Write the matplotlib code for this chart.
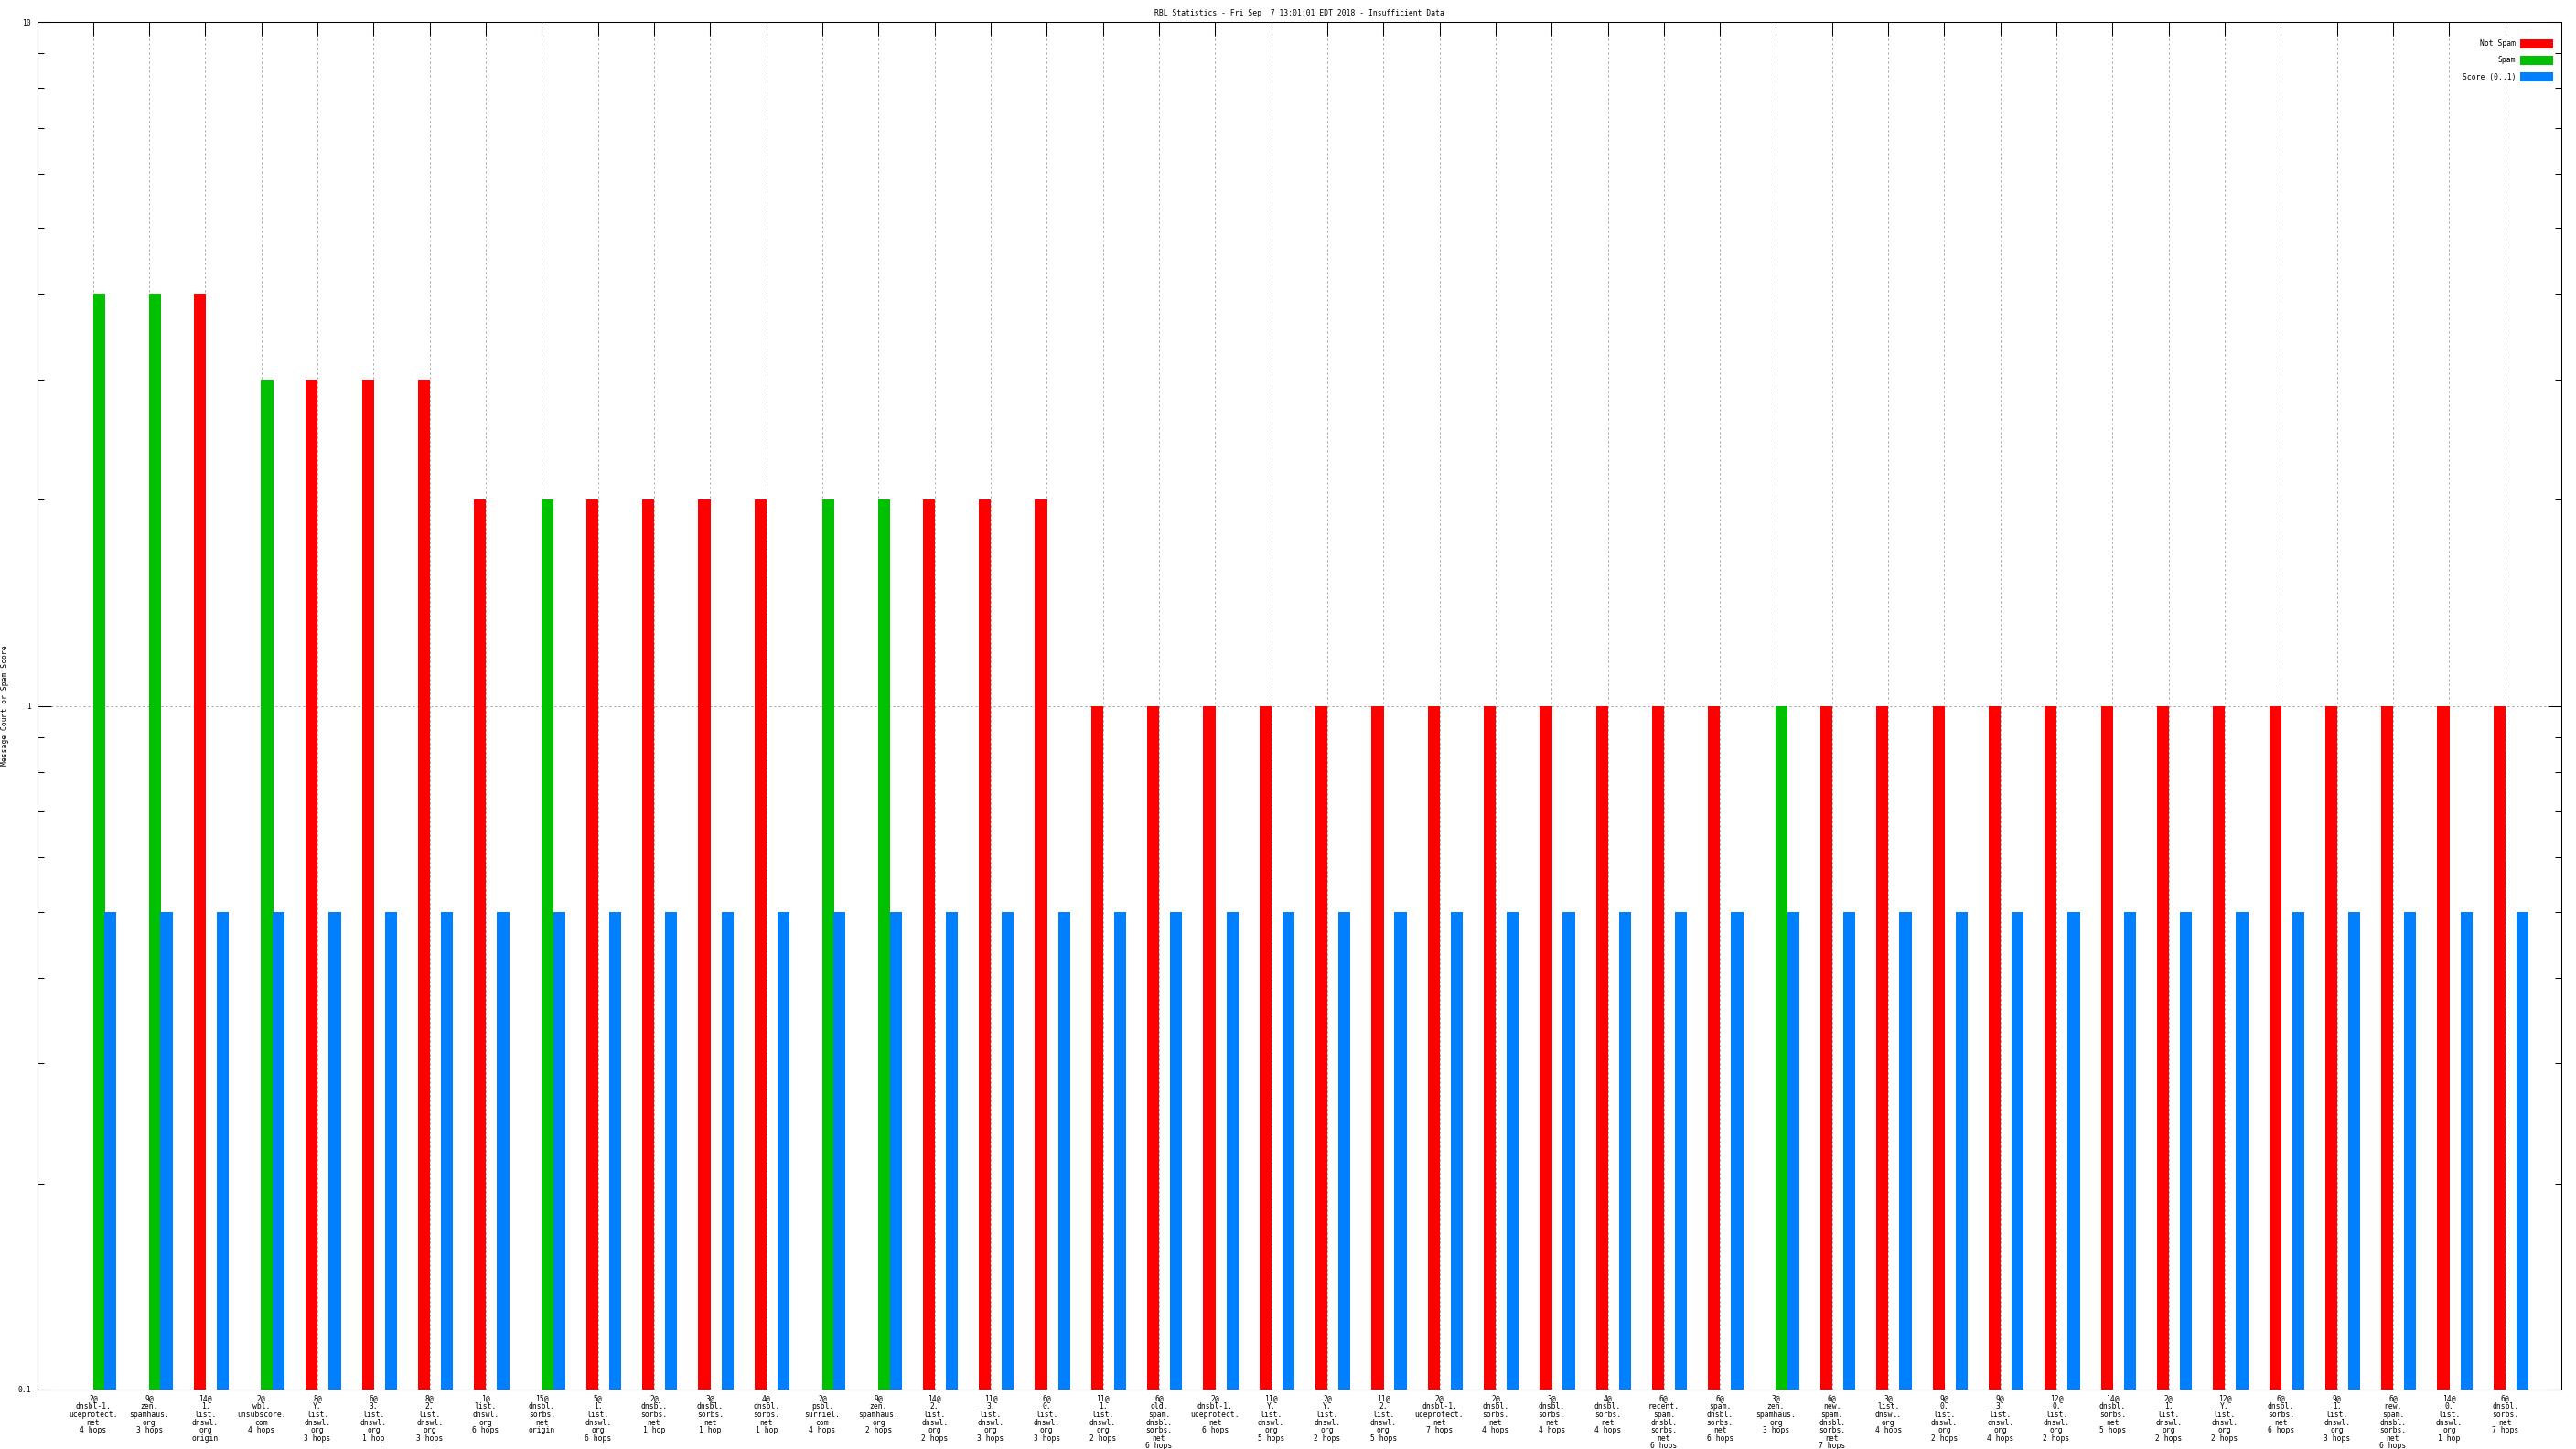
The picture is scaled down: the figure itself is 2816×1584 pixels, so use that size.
import numpy as np
import matplotlib
matplotlib.use('Agg')
import matplotlib.pyplot as plt
from matplotlib.patches import Rectangle

# RBL lookup hits: "<count>@<rbl host> <hops>"
counts = [2, 9, 14, 2, 8, 6, 8, 1, 15, 5, 2, 3, 4, 2, 9, 14, 11, 6, 11, 6, 2, 11,
          2, 11, 2, 2, 3, 4, 6, 6, 3, 6, 3, 9, 9, 12, 14, 2, 12, 6, 9, 6, 14, 6]
hosts = ['dnsbl-1.uceprotect.net', 'zen.spamhaus.org', '1.list.dnswl.org',
         'wbl.unsubscore.com', 'Y.list.dnswl.org', '3.list.dnswl.org',
         '2.list.dnswl.org', 'list.dnswl.org', 'dnsbl.sorbs.net',
         '1.list.dnswl.org', 'dnsbl.sorbs.net', 'dnsbl.sorbs.net',
         'dnsbl.sorbs.net', 'psbl.surriel.com', 'zen.spamhaus.org',
         '2.list.dnswl.org', '3.list.dnswl.org', '0.list.dnswl.org',
         '1.list.dnswl.org', 'old.spam.dnsbl.sorbs.net', 'dnsbl-1.uceprotect.net',
         'Y.list.dnswl.org', 'Y.list.dnswl.org', '2.list.dnswl.org',
         'dnsbl-1.uceprotect.net', 'dnsbl.sorbs.net', 'dnsbl.sorbs.net',
         'dnsbl.sorbs.net', 'recent.spam.dnsbl.sorbs.net', 'spam.dnsbl.sorbs.net',
         'zen.spamhaus.org', 'new.spam.dnsbl.sorbs.net', 'list.dnswl.org',
         '0.list.dnswl.org', '3.list.dnswl.org', '0.list.dnswl.org',
         'dnsbl.sorbs.net', '1.list.dnswl.org', 'Y.list.dnswl.org',
         'dnsbl.sorbs.net', '1.list.dnswl.org', 'new.spam.dnsbl.sorbs.net',
         '0.list.dnswl.org', 'dnsbl.sorbs.net']
hops = ['4 hops', '3 hops', 'origin', '4 hops', '3 hops', '1 hop', '3 hops',
        '6 hops', 'origin', '6 hops', '1 hop', '1 hop', '1 hop', '4 hops',
        '2 hops', '2 hops', '3 hops', '3 hops', '2 hops', '6 hops', '6 hops',
        '5 hops', '2 hops', '5 hops', '7 hops', '4 hops', '4 hops', '4 hops',
        '6 hops', '6 hops', '3 hops', '7 hops', '4 hops', '2 hops', '4 hops',
        '2 hops', '5 hops', '2 hops', '2 hops', '6 hops', '3 hops', '6 hops',
        '1 hop', '7 hops']

not_spam = [0, 0, 4, 0, 3, 3, 3, 2, 0, 2, 2, 2, 2, 0, 0, 2, 2, 2, 1, 1, 1, 1,
            1, 1, 1, 1, 1, 1, 1, 1, 0, 1, 1, 1, 1, 1, 1, 1, 1, 1, 1, 1, 1, 1]
spam = [4, 4, 0, 3, 0, 0, 0, 0, 2, 0, 0, 0, 0, 2, 2, 0, 0, 0, 0, 0, 0, 0,
        0, 0, 0, 0, 0, 0, 0, 0, 1, 0, 0, 0, 0, 0, 0, 0, 0, 0, 0, 0, 0, 0]
score = [0.5] * 44

series = ['Not Spam', 'Spam', 'Score (0..1)']
colors = ['#ff0000', '#00c000', '#0080ff']

title = 'RBL Statistics - Fri Sep  7 13:01:01 EDT 2018 - Insufficient Data'

W, H = 2816, 1584
plt.rcParams['font.family'] = ['DejaVu Sans Mono']
fs = 5.8

fig = plt.figure(figsize=(W / 100, H / 100), dpi=100)
# axes box in pixels: left 40.5, right 2800, top 24, bottom 1519
ax = fig.add_axes([40.5 / W, 1 - 1519 / H, (2800 - 40.5) / W, (1519 - 24) / H])
ax.set_yscale('log')

x = np.arange(len(counts))
step = 0.205
w = 0.215
ns = np.array(not_spam, dtype=float)
sp = np.array(spam, dtype=float)
ns[ns == 0] = np.nan
sp[sp == 0] = np.nan
ax.bar(x - 0.5 * step, ns, width=w, color=colors[0], linewidth=0, zorder=2)
ax.bar(x + 0.5 * step, sp, width=w, color=colors[1], linewidth=0, zorder=2)
ax.bar(x + 1.5 * step, score, width=w, color=colors[2], linewidth=0, zorder=2)

ax.set_xlim(-1, 44)
ax.set_ylim(0.1, 10)

labels = ['%d@\n%s\n%s' % (c, h.replace('.', '.\n'), hp)
          for c, h, hp in zip(counts, hosts, hops)]
ax.set_xticks(x)
ax.set_xticklabels(labels, fontsize=fs, linespacing=0.95, va='top', ha='center')
ax.set_yticks([0.1, 1, 10])
ax.set_yticklabels(['0.1', '1', '10'], fontsize=fs)
ax.set_yticks([v * d for d in (0.1, 1) for v in range(2, 10)], minor=True)
ax.yaxis.set_minor_formatter(plt.NullFormatter())

ax.set_axisbelow(True)
ax.tick_params(which='major', direction='in', length=10.8, width=0.75,
               top=True, bottom=False, right=True, color='black')
ax.tick_params(which='minor', direction='in', length=5.0, width=0.75,
               right=True, color='black')
ax.tick_params(axis='x', pad=4)
ax.tick_params(axis='y', pad=4.5)
ax.grid(True, which='major', axis='both', color='#a0a0a0',
        linewidth=0.72, linestyle=(0, (2, 3)))
for s in ax.spines.values():
    s.set_linewidth(0.75)
    s.set_zorder(3)

fig.text(1420 / W, 1 - 14.5 / H, title, fontsize=fs, ha='center', va='center')
fig.text(6 / W, 1 - 771.5 / H, 'Message Count or Spam Score', fontsize=fs,
         rotation=90, ha='center', va='center')

# legend, top right inside the plot
for i, (name, col) in enumerate(zip(series, colors)):
    yc = 48 + 18 * i
    fig.text(2750 / W, 1 - yc / H, name, fontsize=fs, ha='right', va='center')
    fig.add_artist(Rectangle((2755 / W, 1 - (yc + 5) / H), 36 / W, 10 / H,
                             transform=fig.transFigure, color=col, linewidth=0))

fig.savefig('out.png', dpi=100)
